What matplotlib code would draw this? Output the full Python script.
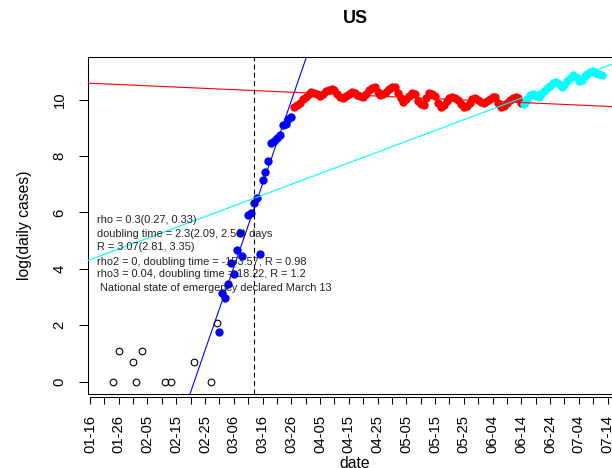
import numpy as np
import matplotlib
matplotlib.use('Agg')
import matplotlib.pyplot as plt
import matplotlib.dates as mdates

plt.rcParams['font.family'] = ['Liberation Sans', 'DejaVu Sans']

# first cases, before the fit window (open circles)
early_dates = ['2020-01-24', '2020-01-26', '2020-01-31', '2020-02-01', '2020-02-03',
               '2020-02-11', '2020-02-13', '2020-02-21', '2020-02-27', '2020-02-29']
early_vals = [0, 1.10, 0.69, 0, 1.10, 0, 0, 0.69, 0, 2.08]

# growth phase (blue)
blue_dates = ['2020-03-01', '2020-03-02', '2020-03-03', '2020-03-04', '2020-03-05',
              '2020-03-06', '2020-03-07', '2020-03-08', '2020-03-09', '2020-03-11',
              '2020-03-12', '2020-03-13', '2020-03-14', '2020-03-15', '2020-03-16',
              '2020-03-17', '2020-03-18', '2020-03-19', '2020-03-20', '2020-03-21',
              '2020-03-22', '2020-03-23', '2020-03-24', '2020-03-25', '2020-03-26']
blue_vals = [1.77, 3.13, 2.97, 3.45, 4.20, 3.82, 4.68, 5.26, 4.45, 5.92,
             5.98, 6.33, 6.50, 4.54, 7.16, 7.42, 7.83, 8.47, 8.52, 8.65,
             8.74, 9.10, 9.15, 9.30, 9.38]

# plateau (red), one value per day
red_start = '2020-03-27'
red_vals = [9.75, 9.81, 9.89, 10.01, 10.09, 10.19, 10.28, 10.24, 10.19, 10.14,
            10.19, 10.29, 10.34, 10.39, 10.34, 10.21, 10.09, 10.04, 10.11, 10.21,
            10.28, 10.24, 10.17, 10.11, 10.10, 10.21, 10.34, 10.42, 10.45, 10.27,
            10.16, 10.19, 10.27, 10.37, 10.43, 10.45, 10.24, 10.04, 9.93, 10.01,
            10.14, 10.22, 10.19, 9.94, 9.83, 9.81, 10.04, 10.22, 10.19, 10.11,
            9.89, 9.75, 9.81, 9.94, 10.04, 10.10, 10.04, 9.99, 9.84, 9.75,
            9.77, 9.89, 10.01, 10.04, 9.99, 9.91, 9.87, 9.94, 10.01, 10.09,
            10.10, 9.89, 9.75, 9.79, 9.89, 9.99, 10.07, 10.10, 10.04, 9.87]

# second rise (cyan), one value per day
cyan_start = '2020-06-15'
cyan_vals = [9.85, 10.00, 10.15, 10.20, 10.12, 10.08, 10.20, 10.32, 10.40, 10.48,
             10.58, 10.64, 10.55, 10.46, 10.50, 10.65, 10.78, 10.87, 10.80, 10.65,
             10.70, 10.82, 10.92, 10.99, 11.00, 10.96, 10.90, 10.88]

# fitted lines: anchor date, value at anchor, slope per day
fit_blue = ('2020-03-13', 6.12, 0.295)
fit_red = ('2020-01-16', 10.58, -0.00456)
fit_cyan = ('2020-01-16', 4.32, 0.0382)

emergency_date = '2020-03-13'
notes = ['rho = 0.3(0.27, 0.33)',
         'doubling time = 2.3(2.09, 2.56) days',
         'R = 3.07(2.81, 3.35)',
         'rho2 = 0, doubling time = -153.57, R = 0.98',
         'rho3 = 0.04, doubling time = 18.22, R = 1.2',
         ' National state of emergency declared March 13']
note_y = [5.74, 5.23, 4.79, 4.25, 3.81, 3.32]


def to_num(d):
    return mdates.date2num(np.datetime64(d))


def daily(start, vals):
    return np.datetime64(start) + np.arange(len(vals)).astype('timedelta64[D]')


fig = plt.figure(figsize=(6.12, 4.68), dpi=100)
ax = fig.add_axes([88 / 612, 1 - 394 / 468, 534 / 612, 337 / 468])

t0 = np.datetime64('2020-01-16')
ax.set_xlim(to_num(t0) - 0.69, to_num(t0) + 184.7)
ax.set_ylim(-0.44, 11.51)

ax.plot(np.array(early_dates, dtype='datetime64[D]'), early_vals, 'o', mfc='none',
        mec='black', ms=4.8, mew=0.8, zorder=2)
ax.plot(np.array(blue_dates, dtype='datetime64[D]'), blue_vals, 'o', color='#0000FF',
        ms=6, mew=0, zorder=2)
ax.plot(daily(red_start, red_vals), red_vals, 'o', color='#FF0000', ms=6, mew=0, zorder=2)
ax.plot(daily(cyan_start, cyan_vals), cyan_vals, 'o', color='#00FFFF', ms=6, mew=0, zorder=2)

for (d, v, s), c in [(fit_blue, '#0000FF'), (fit_red, '#FF0000'), (fit_cyan, '#00FFFF')]:
    ax.axline((to_num(d), v), slope=s, color=c, lw=0.8, zorder=3)

ax.axvline(to_num(emergency_date), color='black', lw=0.8, ls=(0, (4.5, 3)), zorder=3)

for txt, y in zip(notes, note_y):
    ax.text(to_num(t0) + 2.55, y, txt, fontsize=7.9, va='center', ha='left',
            color='#222222', zorder=4)

# axes styling, R-like
ticks = [to_num(t0 + np.timedelta64(k, 'D')) for k in range(0, 190, 10)]
minor = [to_num(t0 + np.timedelta64(k, 'D')) for k in range(5, 190, 10)]
ax.set_xticks(ticks)
ax.set_xticks(minor, minor=True)
ax.xaxis.set_major_formatter(mdates.DateFormatter('%m-%d'))
ax.set_yticks([0, 2, 4, 6, 8, 10])
ax.tick_params(axis='x', which='both', length=5.2, width=0.75, direction='out',
               labelrotation=90, labelsize=10.7, pad=7.5)
ax.tick_params(axis='y', length=6.5, width=0.75, direction='out',
               labelrotation=90, labelsize=10.7, pad=9)
for lab in ax.get_yticklabels():
    lab.set_verticalalignment('center')

for sp in ax.spines.values():
    sp.set_linewidth(0.75)
ax.spines['bottom'].set_position(('outward', 2.3))
ax.spines['bottom'].set_bounds(to_num(t0), to_num(t0) + 185)
ax.plot([0, 1], [0, 0], transform=ax.transAxes, color='black', lw=0.75,
        clip_on=False, zorder=5)

fig.text(355 / 612, 1 - 18.5 / 468, 'US', ha='center', va='center',
         fontsize=13, fontweight='bold')
fig.text(355 / 612, 1 - 464 / 468, 'date', ha='center', va='center', fontsize=11.3)
fig.text(25 / 612, 1 - 225.5 / 468, 'log(daily cases)', ha='center', va='center',
         rotation=90, fontsize=11.3)

fig.savefig('out.png', dpi=100)
